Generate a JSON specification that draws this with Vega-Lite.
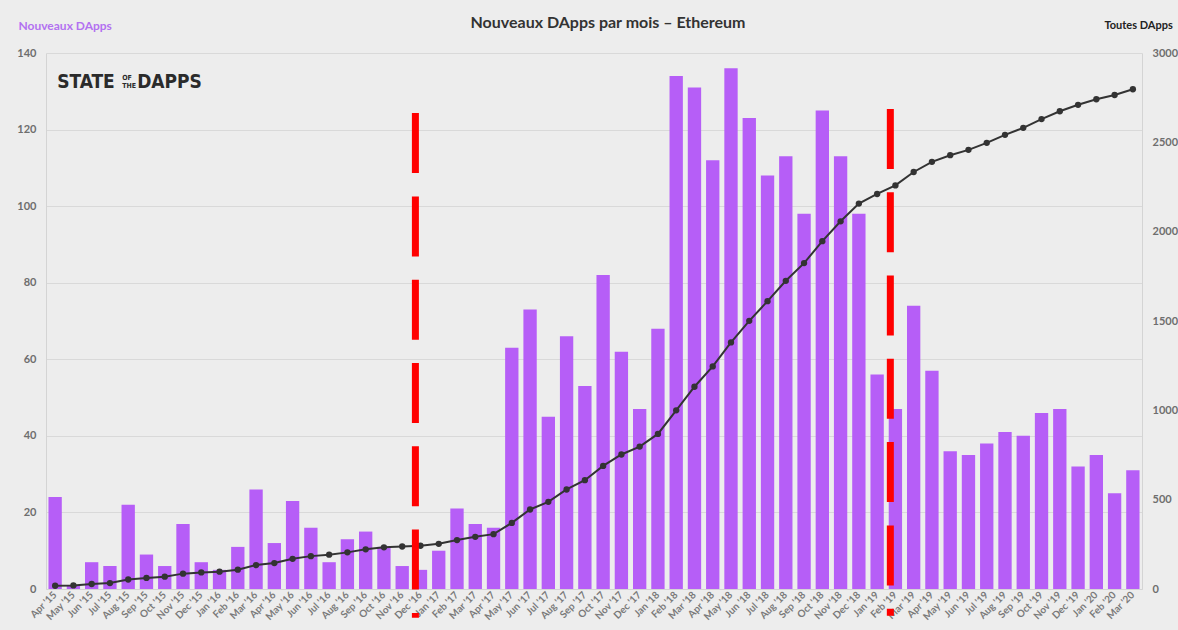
{
  "$schema": "https://vega.github.io/schema/vega-lite/v6.json",
  "width": 1096,
  "height": 536,
  "autosize": {"type": "none"},
  "padding": {"left": 46, "top": 53, "right": 36, "bottom": 41},
  "background": "#ededed",
  "config": {"view": {"stroke": null}, "font": "Lato"},
  "title": {"text": "Nouveaux DApps par mois – Ethereum", "frame": "group", "anchor": "middle", "offset": -12, "fontSize": 16, "fontWeight": "bold", "color": "#333333", "dx": 14, "font": "Lato"},
  "datasets": {
    "monthly": [
      {"month": "Apr '15", "new": 24, "total": 18},
      {"month": "May '15", "new": 1, "total": 20},
      {"month": "Jun '15", "new": 7, "total": 28},
      {"month": "Jul '15", "new": 6, "total": 33},
      {"month": "Aug '15", "new": 22, "total": 53},
      {"month": "Sep '15", "new": 9, "total": 62},
      {"month": "Oct '15", "new": 6, "total": 69},
      {"month": "Nov '15", "new": 17, "total": 86},
      {"month": "Dec '15", "new": 7, "total": 93},
      {"month": "Jan '16", "new": 5, "total": 97},
      {"month": "Feb '16", "new": 11, "total": 108},
      {"month": "Mar '16", "new": 26, "total": 134},
      {"month": "Apr '16", "new": 12, "total": 145},
      {"month": "May '16", "new": 23, "total": 169},
      {"month": "Jun '16", "new": 16, "total": 184},
      {"month": "Jul '16", "new": 7, "total": 192},
      {"month": "Aug '16", "new": 13, "total": 205},
      {"month": "Sep '16", "new": 15, "total": 222},
      {"month": "Oct '16", "new": 11, "total": 233},
      {"month": "Nov '16", "new": 6, "total": 238},
      {"month": "Dec '16", "new": 5, "total": 242},
      {"month": "Jan '17", "new": 10, "total": 253},
      {"month": "Feb '17", "new": 21, "total": 274},
      {"month": "Mar '17", "new": 17, "total": 292},
      {"month": "Apr '17", "new": 16, "total": 307},
      {"month": "May '17", "new": 63, "total": 370},
      {"month": "Jun '17", "new": 73, "total": 445},
      {"month": "Jul '17", "new": 45, "total": 488},
      {"month": "Aug '17", "new": 66, "total": 557},
      {"month": "Sep '17", "new": 53, "total": 609},
      {"month": "Oct '17", "new": 82, "total": 689},
      {"month": "Nov '17", "new": 62, "total": 753},
      {"month": "Dec '17", "new": 47, "total": 797},
      {"month": "Jan '18", "new": 68, "total": 868},
      {"month": "Feb '18", "new": 134, "total": 1000},
      {"month": "Mar '18", "new": 131, "total": 1132},
      {"month": "Apr '18", "new": 112, "total": 1246},
      {"month": "May '18", "new": 136, "total": 1380},
      {"month": "Jun '18", "new": 123, "total": 1501},
      {"month": "Jul '18", "new": 108, "total": 1611},
      {"month": "Aug '18", "new": 113, "total": 1725},
      {"month": "Sep '18", "new": 98, "total": 1824},
      {"month": "Oct '18", "new": 125, "total": 1947},
      {"month": "Nov '18", "new": 113, "total": 2058},
      {"month": "Dec '18", "new": 98, "total": 2157},
      {"month": "Jan '19", "new": 56, "total": 2211},
      {"month": "Feb '19", "new": 47, "total": 2259},
      {"month": "Mar '19", "new": 74, "total": 2334},
      {"month": "Apr '19", "new": 57, "total": 2391},
      {"month": "May '19", "new": 36, "total": 2428},
      {"month": "Jun '19", "new": 35, "total": 2458},
      {"month": "Jul '19", "new": 38, "total": 2497},
      {"month": "Aug '19", "new": 41, "total": 2542},
      {"month": "Sep '19", "new": 40, "total": 2581},
      {"month": "Oct '19", "new": 46, "total": 2630},
      {"month": "Nov '19", "new": 47, "total": 2674},
      {"month": "Dec '19", "new": 32, "total": 2710},
      {"month": "Jan '20", "new": 35, "total": 2741},
      {"month": "Feb '20", "new": 25, "total": 2765},
      {"month": "Mar '20", "new": 31, "total": 2797}
    ],
    "markers": [
      {"month": "Dec '16", "top": 124.3, "bottom": -7.5},
      {"month": "Feb '19", "top": 125.4, "bottom": -7}
    ],
    "logo": [
      {"month": "Apr '15", "y": 132.5}
    ]
  },
  "layer": [
    {
      "data": {"name": "monthly"},
      "mark": {"type": "bar", "color": "#b65ef7"},
      "encoding": {
        "x": {
          "field": "month", "type": "ordinal", "sort": null,
          "scale": {"paddingInner": 0.27, "paddingOuter": 0.135},
          "axis": {"title": null, "labelAngle": -45, "labelAlign": "right", "labelBaseline": "middle", "labelPadding": 4, "ticks": false, "domainColor": "#d4d4d4", "labelColor": "#7a7a7a", "labelFontSize": 10, "labelFontWeight": "bold", "labelFont": "Lato"}
        },
        "y": {
          "field": "new", "type": "quantitative",
          "scale": {"domain": [0, 140]},
          "axis": {"title": "Nouveaux DApps", "titleAngle": 0, "titleAlign": "left", "titleBaseline": "middle", "titleX": -28, "titleY": -28, "titleColor": "#b371f1", "titleFontSize": 12, "titleFontWeight": "bold", "titleFont": "Lato", "values": [0, 20, 40, 60, 80, 100, 120, 140], "grid": true, "gridColor": "#d9d9d9", "domainColor": "#d4d4d4", "ticks": false, "labelColor": "#6e6e6e", "labelFontSize": 11, "labelFontWeight": "bold", "labelFont": "Lato", "labelPadding": 10}
        }
      }
    },
    {
      "data": {"name": "monthly"},
      "mark": {"type": "line", "color": "#333333", "strokeWidth": 2, "point": {"filled": true, "size": 40, "color": "#333333"}},
      "encoding": {
        "x": {"field": "month", "type": "ordinal", "sort": null},
        "y": {
          "field": "total", "type": "quantitative",
          "scale": {"domain": [0, 3000]},
          "axis": {"orient": "right", "title": "Toutes DApps", "titleAngle": 0, "titleAlign": "left", "titleBaseline": "middle", "titleX": -38, "titleY": -28, "titleColor": "#222222", "titleFontSize": 11, "titleFontWeight": "bold", "titleFont": "Lato", "values": [0, 500, 1000, 1500, 2000, 2500, 3000], "format": "d", "grid": false, "domainColor": "#d4d4d4", "ticks": false, "labelColor": "#6e6e6e", "labelFontSize": 11, "labelFontWeight": "bold", "labelFont": "Lato", "labelPadding": 10}
        }
      }
    },
    {
      "data": {"name": "markers"},
      "mark": {"type": "rule", "color": "#ff0000", "strokeWidth": 7, "strokeDash": [60, 23.3]},
      "encoding": {
        "x": {"field": "month", "type": "ordinal", "sort": null, "bandPosition": 0.12},
        "y": {"field": "top", "type": "quantitative", "scale": {"domain": [0, 140]}, "axis": null},
        "y2": {"field": "bottom"}
      }
    },
    {
      "data": {"name": "logo"},
      "layer": [
        {"mark": {"type": "text", "text": "STATE", "align": "left", "baseline": "middle", "dx": 0, "font": "'DejaVu Sans Condensed', 'Liberation Sans', sans-serif", "fontWeight": "bold", "fontSize": 19, "color": "#2b2b2b"}},
        {"mark": {"type": "text", "text": ["OF", "THE"], "align": "left", "baseline": "middle", "dx": 65, "dy": -4, "lineHeight": 8, "font": "'DejaVu Sans Condensed', 'Liberation Sans', sans-serif", "fontWeight": "bold", "fontSize": 7, "color": "#2b2b2b"}},
        {"mark": {"type": "text", "text": "DAPPS", "align": "left", "baseline": "middle", "dx": 80, "font": "'DejaVu Sans Condensed', 'Liberation Sans', sans-serif", "fontWeight": "bold", "fontSize": 19, "color": "#2b2b2b"}}
      ],
      "encoding": {
        "x": {"field": "month", "type": "ordinal", "sort": null, "bandPosition": 0.65},
        "y": {"field": "y", "type": "quantitative", "scale": {"domain": [0, 140]}, "axis": null}
      }
    }
  ],
  "resolve": {"scale": {"y": "independent"}}
}
